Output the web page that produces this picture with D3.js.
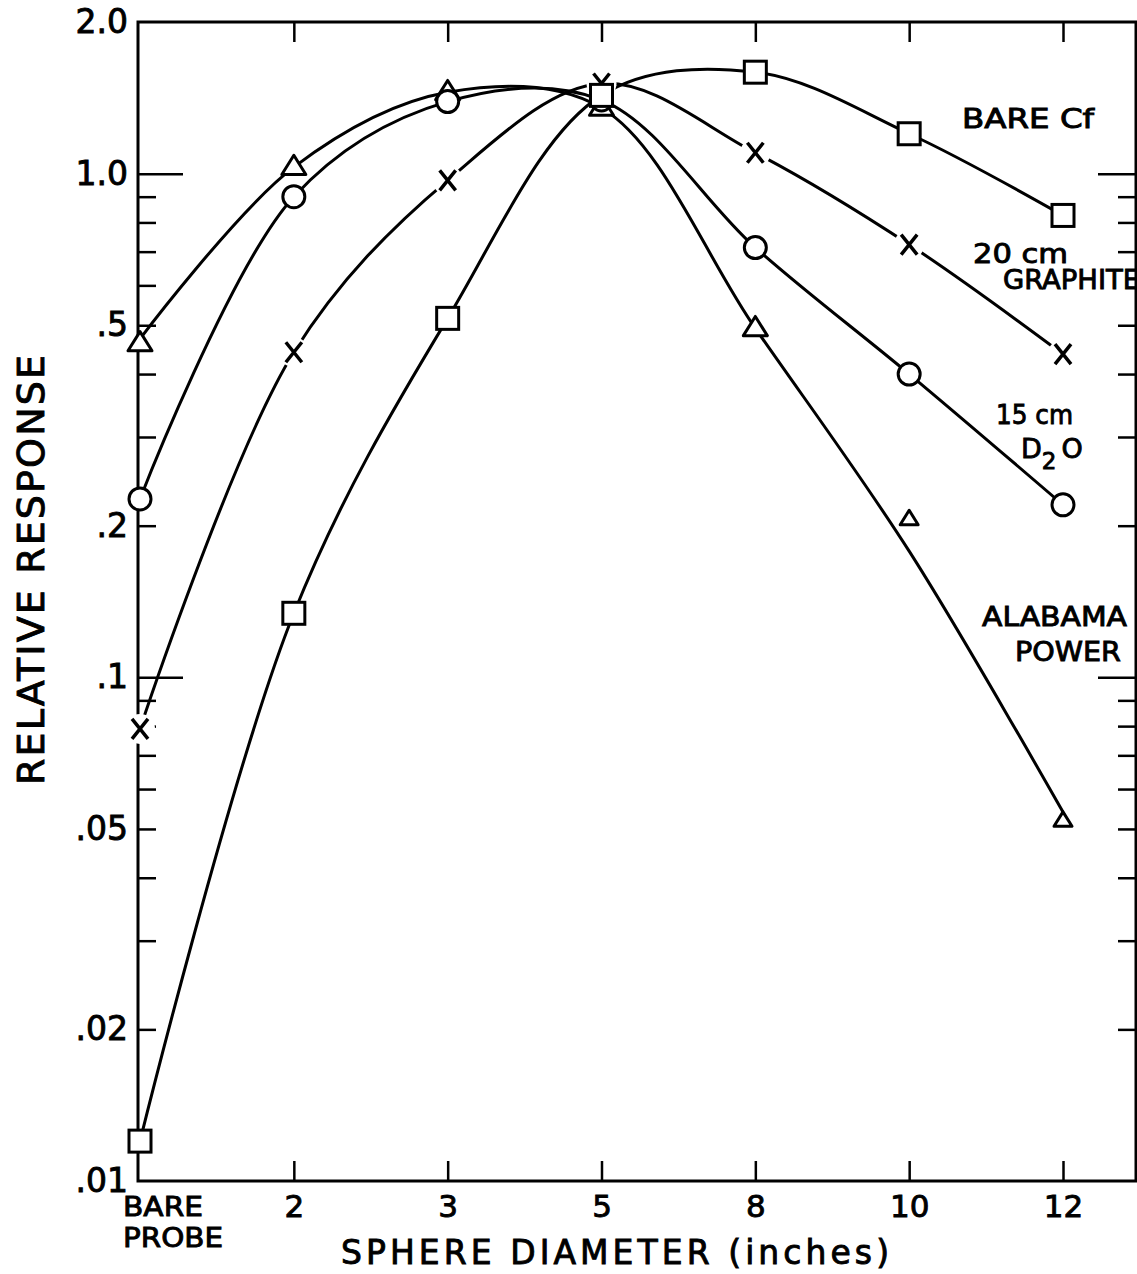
<!DOCTYPE html>
<html>
<head>
<meta charset="utf-8">
<script src="https://cdn.jsdelivr.net/npm/d3@7"></script>
<style>
  body { margin: 0; background: #fff; }
  text { font-family: 'DejaVu Sans', sans-serif; fill: #000; stroke: #000; stroke-width: 0.9px; }
</style>
</head>
<body>
<svg id="chart" width="1137" height="1274"></svg>
<script>
// data //

const categories = ['BARE', '2', '3', '5', '8', '10', '12']
const bareCf = [0.012, 0.134, 0.516, 1.43, 1.59, 1.2, 0.826]
const graphite = [0.079, 0.442, 0.97, 1.51, 1.1, 0.723, 0.438]
const d2o = [0.226, 0.9, 1.39, 1.4, 0.713, 0.4, 0.22]
const alabama = [0.46, 1.03, 1.45, 1.35, 0.493, 0.206, 0.0519]
// the hand drawn alabama curve misses the 10 inch point
const alabamaCurve = [0.47, 1.03, 1.45, 1.35, 0.493, 0.178, 0.054]

const yLabelValues = [2, 1, 0.5, 0.2, 0.1, 0.05, 0.02, 0.01]
const yLabels = ['2.0', '1.0', '.5', '.2', '.1', '.05', '.02', '.01']
const yMajor = [1, 0.1]
const yMinor = [0.9, 0.8, 0.7, 0.6, 0.5, 0.4, 0.3, 0.2, 0.09, 0.08, 0.07, 0.06, 0.05, 0.04, 0.03, 0.02]

// layout //

const plotLeft = 138
const plotRight = 1136
const plotTop = 22
const plotBottom = 1181

const svg = d3.select('#chart')

const x = d3.scalePoint().domain(categories).range([140, 1063])
const y = d3.scaleLog().domain([0.01, 2]).range([plotBottom, plotTop])

// frame
svg.append('rect')
    .attr('x', plotLeft)
    .attr('y', plotTop)
    .attr('width', plotRight - plotLeft)
    .attr('height', plotBottom - plotTop)
    .attr('fill', 'none')
    .attr('stroke', '#000')
    .attr('stroke-width', 3)

function styleTicks(g) {
    g.select('.domain').remove()
    g.selectAll('.tick line').attr('stroke', '#000').attr('stroke-width', 2.5)
}

function styleLabels(g, size) {
    g.selectAll('text')
        .attr('font-size', size)
        .attr('font-family', "'DejaVu Sans', sans-serif")
        .attr('fill', '#000')
}

// left ticks
svg.append('g').attr('transform', `translate(${plotLeft},0)`)
    .call(d3.axisLeft(y).tickValues(yMinor).tickSize(-18).tickFormat(''))
    .call(styleTicks)
svg.append('g').attr('transform', `translate(${plotLeft},0)`)
    .call(d3.axisLeft(y).tickValues(yMajor).tickSize(-45).tickFormat(''))
    .call(styleTicks)

// left labels
svg.append('g').attr('transform', `translate(${plotLeft},0)`)
    .call(d3.axisLeft(y).tickValues(yLabelValues).tickSize(0).tickPadding(10)
        .tickFormat((d, i) => yLabels[i]))
    .call(g => g.select('.domain').remove())
    .call(styleLabels, 33)

// right ticks (the 0.6 one sits under the GRAPHITE label)
svg.append('g').attr('transform', `translate(${plotRight},0)`)
    .call(d3.axisRight(y).tickValues(yMinor.filter((v) => v !== 0.6)).tickSize(-18).tickFormat(''))
    .call(styleTicks)
svg.append('g').attr('transform', `translate(${plotRight},0)`)
    .call(d3.axisRight(y).tickValues(yMajor).tickSize(-38).tickFormat(''))
    .call(styleTicks)

// top ticks
svg.append('g').attr('transform', `translate(0,${plotTop})`)
    .call(d3.axisTop(x).tickValues(categories.slice(1)).tickSize(-20).tickFormat(''))
    .call(styleTicks)

// bottom ticks + labels
svg.append('g').attr('transform', `translate(0,${plotBottom})`)
    .call(d3.axisBottom(x).tickValues(categories.slice(1)).tickSize(-20).tickPadding(14))
    .call(styleTicks)
    .call(styleLabels, 31)

// first category label is written on two lines
svg.append('text')
    .attr('x', x('BARE') - 17).attr('y', 1216)
    .attr('font-size', 26)
    .attr('textLength', 80).attr('lengthAdjust', 'spacingAndGlyphs')
    .text('BARE')
svg.append('text')
    .attr('x', x('BARE') - 17).attr('y', 1247)
    .attr('font-size', 26)
    .attr('textLength', 100).attr('lengthAdjust', 'spacingAndGlyphs')
    .text('PROBE')

// axis titles
svg.append('text')
    .attr('x', 615)
    .attr('y', 1264)
    .attr('text-anchor', 'middle')
    .attr('font-size', 33)
    .attr('textLength', 548)
    .attr('lengthAdjust', 'spacing')
    .text('SPHERE  DIAMETER (inches)')

svg.append('text')
    .attr('transform', 'translate(44,570) rotate(-90)')
    .attr('text-anchor', 'middle')
    .attr('font-size', 38)
    .attr('textLength', 430)
    .attr('lengthAdjust', 'spacing')
    .text('RELATIVE  RESPONSE')

// curves //

const line = d3.line()
    .x((d, i) => x(categories[i]))
    .y((d) => y(d))
    .curve(d3.curveCatmullRom.alpha(0.5))

const curves = [bareCf, graphite, d2o, alabamaCurve]
svg.append('g')
    .selectAll('path')
    .data(curves)
    .join('path')
    .attr('d', line)
    .attr('fill', 'none')
    .attr('stroke', '#000')
    .attr('stroke-width', 3)

// markers //

function drawMarkers(values, shape) {
    const g = svg.append('g')
    values.forEach((v, i) => {
        const cx = x(categories[i])
        const cy = y(v)
        const m = g.append('g').attr('transform', `translate(${cx},${cy})`)
        if (shape === 'square') {
            m.append('rect').attr('x', -11).attr('y', -11).attr('width', 22).attr('height', 22)
                .attr('fill', '#fff').attr('stroke', '#000').attr('stroke-width', 3)
        } else if (shape === 'circle') {
            m.append('circle').attr('r', 11)
                .attr('fill', '#fff').attr('stroke', '#000').attr('stroke-width', 3)
        } else if (shape === 'cross') {
            m.append('circle').attr('r', 15).attr('fill', '#fff')
            m.append('path').attr('d', 'M-8,-10L8,10M8,-10L-8,10')
                .attr('stroke', '#000').attr('stroke-width', 3.5).attr('fill', 'none')
        } else if (shape === 'triangle') {
            // last two triangles were drawn smaller and off the curve
            const s = i >= 5 ? 9 : 12
            const h = s * 1.6
            m.append('path')
                .attr('d', `M0,${-h * 0.62}L${s},${h * 0.38}L${-s},${h * 0.38}Z`)
                .attr('fill', '#fff').attr('stroke', '#000').attr('stroke-width', 3)
                .attr('stroke-linejoin', 'round')
        }
    })
}

drawMarkers(alabama, 'triangle')
drawMarkers(d2o, 'circle')
drawMarkers(graphite, 'cross')
drawMarkers(bareCf, 'square')

// curve labels //

function label(lines) {
    lines.forEach(([text, lx, ly, len]) => {
        svg.append('text')
            .attr('x', lx)
            .attr('y', ly)
            .attr('font-size', 26)
            .attr('textLength', len)
            .attr('lengthAdjust', 'spacingAndGlyphs')
            .text(text)
    })
}

label([
    ['BARE Cf', 962, 128, 132],
    ['20 cm', 973, 263, 95],
    ['GRAPHITE', 1003, 289, 137],
    ['15 cm', 996, 424, 77],
    ['ALABAMA', 982, 626, 145],
    ['POWER', 1015, 661, 106]
])

const d2oText = svg.append('text')
    .attr('x', 1021)
    .attr('y', 458)
    .attr('font-size', 27)
d2oText.append('tspan').text('D')
d2oText.append('tspan').attr('dy', 11).attr('font-size', 23).text('2')
d2oText.append('tspan').attr('dy', -11).attr('dx', 5).text('O')
</script>
</body>
</html>
